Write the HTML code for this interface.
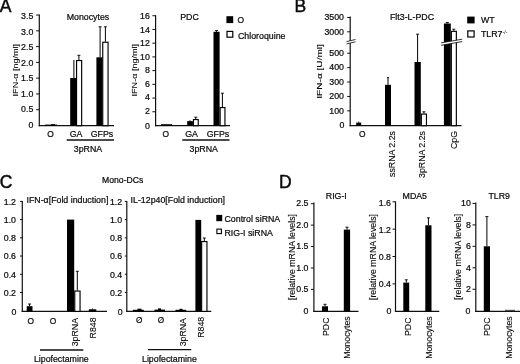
<!DOCTYPE html>
<html><head><meta charset="utf-8"><title>Figure</title>
<style>
html,body{margin:0;padding:0;background:#fff;}
body{width:520px;height:364px;overflow:hidden;}
svg{display:block;filter:blur(0.35px);}
text{font-family:"Liberation Sans",sans-serif;fill:#0a0a0a;stroke:#0a0a0a;stroke-width:0.22px;}
</style></head><body>
<svg width="520" height="364" viewBox="0 0 520 364">
<rect x="0" y="0" width="520" height="364" fill="#fff"/>
<text x="-0.3" y="12.4" text-anchor="start" font-size="17.5" style="stroke-width:0.45px">A</text>
<line x1="39.3" y1="14.6" x2="39.3" y2="126.2" stroke="#111" stroke-width="1.2"/>
<text x="33.3" y="128.45" text-anchor="end" font-size="8.8">0</text>
<line x1="36.099999999999994" y1="109.72" x2="39.3" y2="109.72" stroke="#111" stroke-width="1"/>
<text x="33.3" y="111.92999999999999" text-anchor="end" font-size="8.8">0.5</text>
<line x1="36.099999999999994" y1="93.94" x2="39.3" y2="93.94" stroke="#111" stroke-width="1"/>
<text x="33.3" y="96.50999999999999" text-anchor="end" font-size="8.8">1.0</text>
<line x1="36.099999999999994" y1="78.16" x2="39.3" y2="78.16" stroke="#111" stroke-width="1"/>
<text x="33.3" y="81.09" text-anchor="end" font-size="8.8">1.5</text>
<line x1="36.099999999999994" y1="62.38" x2="39.3" y2="62.38" stroke="#111" stroke-width="1"/>
<text x="33.3" y="65.66999999999999" text-anchor="end" font-size="8.8">2.0</text>
<line x1="36.099999999999994" y1="46.60000000000001" x2="39.3" y2="46.60000000000001" stroke="#111" stroke-width="1"/>
<text x="33.3" y="50.25" text-anchor="end" font-size="8.8">2.5</text>
<line x1="36.099999999999994" y1="30.820000000000007" x2="39.3" y2="30.820000000000007" stroke="#111" stroke-width="1"/>
<text x="33.3" y="34.83" text-anchor="end" font-size="8.8">3.0</text>
<line x1="36.099999999999994" y1="15.040000000000006" x2="39.3" y2="15.040000000000006" stroke="#111" stroke-width="1"/>
<text x="33.3" y="19.409999999999997" text-anchor="end" font-size="8.8">3.5</text>
<line x1="38.699999999999996" y1="125.7" x2="114" y2="125.7" stroke="#111" stroke-width="1.2"/>
<text x="88" y="20" text-anchor="middle" font-size="8.8">Monocytes</text>
<text x="17.6" y="70.2" text-anchor="middle" font-size="7.8" transform="rotate(-90 17.6 70.2)" textLength="52.4" lengthAdjust="spacingAndGlyphs" style="stroke-width:0.12px">IFN-α [ng/ml]</text>
<rect x="45.00" y="124.60" width="12.00" height="1.10" fill="#000"/>
<rect x="51.00" y="124.20" width="4.00" height="1.50" fill="#000"/>
<rect x="70.20" y="78.00" width="5.90" height="47.70" fill="#000"/>
<line x1="73.9" y1="78" x2="73.9" y2="60" stroke="#000" stroke-width="1"/>
<rect x="76.55" y="60.55" width="5.10" height="65.15" fill="#fff" stroke="#000" stroke-width="1.15"/>
<line x1="78.9" y1="60" x2="78.9" y2="55.3" stroke="#000" stroke-width="1"/>
<line x1="77.4" y1="55.3" x2="80.4" y2="55.3" stroke="#000" stroke-width="0.9"/>
<rect x="96.40" y="57.30" width="5.90" height="68.40" fill="#000"/>
<line x1="100.1" y1="57.3" x2="100.1" y2="26.8" stroke="#000" stroke-width="1"/>
<line x1="98.6" y1="26.8" x2="101.6" y2="26.8" stroke="#000" stroke-width="0.9"/>
<rect x="102.75" y="42.25" width="5.30" height="83.45" fill="#fff" stroke="#000" stroke-width="1.15"/>
<line x1="105.4" y1="41.7" x2="105.4" y2="26.8" stroke="#000" stroke-width="1"/>
<line x1="103.9" y1="26.8" x2="106.9" y2="26.8" stroke="#000" stroke-width="0.9"/>
<text x="50.5" y="137" text-anchor="middle" font-size="8.4">O</text>
<text x="76" y="137" text-anchor="middle" font-size="8.8">GA</text>
<text x="102" y="137" text-anchor="middle" font-size="8.8">GFPs</text>
<line x1="66.7" y1="140" x2="114" y2="140" stroke="#111" stroke-width="1.4"/>
<text x="88" y="151.5" text-anchor="middle" font-size="8.8">3pRNA</text>
<line x1="155.6" y1="15.3" x2="155.6" y2="126.2" stroke="#111" stroke-width="1.2"/>
<text x="149.8" y="128.55" text-anchor="end" font-size="8.8">0</text>
<line x1="152.4" y1="111.78" x2="155.6" y2="111.78" stroke="#111" stroke-width="1"/>
<text x="149.8" y="113.95" text-anchor="end" font-size="8.8">2</text>
<line x1="152.4" y1="98.06" x2="155.6" y2="98.06" stroke="#111" stroke-width="1"/>
<text x="149.8" y="100.45" text-anchor="end" font-size="8.8">4</text>
<line x1="152.4" y1="84.34" x2="155.6" y2="84.34" stroke="#111" stroke-width="1"/>
<text x="149.8" y="86.95" text-anchor="end" font-size="8.8">6</text>
<line x1="152.4" y1="70.62" x2="155.6" y2="70.62" stroke="#111" stroke-width="1"/>
<text x="149.8" y="73.45" text-anchor="end" font-size="8.8">8</text>
<line x1="152.4" y1="56.89999999999999" x2="155.6" y2="56.89999999999999" stroke="#111" stroke-width="1"/>
<text x="149.8" y="59.95" text-anchor="end" font-size="8.8">10</text>
<line x1="152.4" y1="43.17999999999999" x2="155.6" y2="43.17999999999999" stroke="#111" stroke-width="1"/>
<text x="149.8" y="46.45" text-anchor="end" font-size="8.8">12</text>
<line x1="152.4" y1="29.459999999999994" x2="155.6" y2="29.459999999999994" stroke="#111" stroke-width="1"/>
<text x="149.8" y="32.95" text-anchor="end" font-size="8.8">14</text>
<line x1="152.4" y1="15.739999999999995" x2="155.6" y2="15.739999999999995" stroke="#111" stroke-width="1"/>
<text x="149.8" y="19.450000000000003" text-anchor="end" font-size="8.8">16</text>
<line x1="155.0" y1="125.7" x2="230" y2="125.7" stroke="#111" stroke-width="1.2"/>
<text x="189.5" y="20" text-anchor="middle" font-size="8.8">PDC</text>
<text x="137.5" y="70.2" text-anchor="middle" font-size="7.8" transform="rotate(-90 137.5 70.2)" textLength="52.4" lengthAdjust="spacingAndGlyphs" style="stroke-width:0.12px">IFN-α [ng/ml]</text>
<rect x="161.00" y="124.20" width="11.00" height="1.50" fill="#000"/>
<rect x="187.20" y="121.10" width="5.70" height="4.60" fill="#000"/>
<line x1="190" y1="121.1" x2="190" y2="120.3" stroke="#000" stroke-width="1"/>
<rect x="193.45" y="119.55" width="4.80" height="6.15" fill="#fff" stroke="#000" stroke-width="1.15"/>
<line x1="195.8" y1="119" x2="195.8" y2="117.2" stroke="#000" stroke-width="1"/>
<line x1="194.3" y1="117.2" x2="197.3" y2="117.2" stroke="#000" stroke-width="0.9"/>
<rect x="213.50" y="31.80" width="6.10" height="93.90" fill="#000"/>
<line x1="216.5" y1="31.8" x2="216.5" y2="30.6" stroke="#000" stroke-width="1"/>
<line x1="215.0" y1="30.6" x2="218.0" y2="30.6" stroke="#000" stroke-width="0.9"/>
<rect x="220.15" y="107.55" width="4.80" height="18.15" fill="#fff" stroke="#000" stroke-width="1.15"/>
<line x1="222.4" y1="107" x2="222.4" y2="93.2" stroke="#000" stroke-width="1"/>
<line x1="220.9" y1="93.2" x2="223.9" y2="93.2" stroke="#000" stroke-width="0.9"/>
<text x="165.7" y="137" text-anchor="middle" font-size="8.4">O</text>
<text x="191.5" y="137" text-anchor="middle" font-size="8.8">GA</text>
<text x="218" y="137" text-anchor="middle" font-size="8.8">GFPs</text>
<line x1="182.3" y1="140" x2="229.5" y2="140" stroke="#111" stroke-width="1.4"/>
<text x="203.7" y="151.5" text-anchor="middle" font-size="8.8">3pRNA</text>
<rect x="226.40" y="16.20" width="6.80" height="6.90" fill="#000"/>
<text x="237.4" y="23.4" text-anchor="start" font-size="8.4">O</text>
<rect x="227.00" y="31.40" width="5.80" height="5.80" fill="#fff" stroke="#000" stroke-width="1.2"/>
<text x="238" y="38.6" text-anchor="start" font-size="8.8">Chloroquine</text>
<text x="294.6" y="12.4" text-anchor="start" font-size="17.5" style="stroke-width:0.45px">B</text>
<line x1="350.2" y1="16.6" x2="350.2" y2="126.2" stroke="#111" stroke-width="1.2"/>
<text x="344.4" y="128.45000000000002" text-anchor="end" font-size="8.8">0</text>
<line x1="347.2" y1="110.88" x2="350.2" y2="110.88" stroke="#111" stroke-width="1"/>
<text x="344" y="113.63" text-anchor="end" font-size="8.8">100</text>
<line x1="347.2" y1="96.46" x2="350.2" y2="96.46" stroke="#111" stroke-width="1"/>
<text x="344" y="99.21" text-anchor="end" font-size="8.8">200</text>
<line x1="347.2" y1="82.03999999999999" x2="350.2" y2="82.03999999999999" stroke="#111" stroke-width="1"/>
<text x="344" y="84.78999999999999" text-anchor="end" font-size="8.8">300</text>
<line x1="347.2" y1="67.62" x2="350.2" y2="67.62" stroke="#111" stroke-width="1"/>
<text x="344" y="70.37" text-anchor="end" font-size="8.8">400</text>
<line x1="347.2" y1="53.2" x2="350.2" y2="53.2" stroke="#111" stroke-width="1"/>
<text x="344" y="55.95" text-anchor="end" font-size="8.8">500</text>
<line x1="347.2" y1="31.8" x2="350.2" y2="31.8" stroke="#111" stroke-width="1"/>
<text x="344" y="34.55" text-anchor="end" font-size="8.8">3000</text>
<line x1="347.2" y1="17.5" x2="350.2" y2="17.5" stroke="#111" stroke-width="1"/>
<text x="344" y="20.25" text-anchor="end" font-size="8.8">3500</text>
<line x1="349.59999999999997" y1="125.7" x2="461.5" y2="125.7" stroke="#111" stroke-width="1.2"/>
<text x="412" y="20" text-anchor="middle" font-size="8.8">Flt3-L-PDC</text>
<text x="322.5" y="71.4" text-anchor="middle" font-size="7.8" transform="rotate(-90 322.5 71.4)" textLength="54.6" lengthAdjust="spacingAndGlyphs" style="stroke-width:0.12px">IFN-α [U/ml]</text>
<polygon points="346.5,41.6 355.5,39.5 355.5,41.8 346.5,43.9" fill="#fff"/>
<line x1="346.5" y1="41.6" x2="355.5" y2="39.5" stroke="#111" stroke-width="0.85"/>
<line x1="346.5" y1="43.9" x2="355.5" y2="41.8" stroke="#111" stroke-width="0.85"/>
<rect x="356.20" y="122.60" width="5.00" height="3.10" fill="#000"/>
<line x1="358.7" y1="122.6" x2="358.7" y2="121.6" stroke="#000" stroke-width="1"/>
<rect x="385.00" y="84.80" width="6.00" height="40.90" fill="#000"/>
<line x1="388" y1="84.8" x2="388" y2="77.6" stroke="#000" stroke-width="1"/>
<line x1="387" y1="77.6" x2="389" y2="77.6" stroke="#000" stroke-width="0.9"/>
<rect x="414.50" y="62.00" width="6.30" height="63.70" fill="#000"/>
<line x1="417.6" y1="62" x2="417.6" y2="34.2" stroke="#000" stroke-width="1"/>
<line x1="416.1" y1="34.2" x2="419.1" y2="34.2" stroke="#000" stroke-width="0.9"/>
<rect x="421.35" y="114.05" width="5.10" height="11.65" fill="#fff" stroke="#000" stroke-width="1.15"/>
<line x1="423.9" y1="113.5" x2="423.9" y2="111.8" stroke="#000" stroke-width="1"/>
<line x1="422.4" y1="111.8" x2="425.4" y2="111.8" stroke="#000" stroke-width="0.9"/>
<rect x="443.90" y="23.50" width="6.90" height="102.20" fill="#000"/>
<line x1="447.3" y1="23.5" x2="447.3" y2="22.5" stroke="#000" stroke-width="1"/>
<line x1="445.8" y1="22.5" x2="448.8" y2="22.5" stroke="#000" stroke-width="0.9"/>
<rect x="451.35" y="31.35" width="5.00" height="94.35" fill="#fff" stroke="#000" stroke-width="1.15"/>
<line x1="453.8" y1="30.8" x2="453.8" y2="29.2" stroke="#000" stroke-width="1"/>
<line x1="452.3" y1="29.2" x2="455.3" y2="29.2" stroke="#000" stroke-width="0.9"/>
<polygon points="441,42.9 462.2,39.2 462.2,41.6 441,45.3" fill="#fff"/>
<line x1="441" y1="42.9" x2="462.2" y2="39.2" stroke="#111" stroke-width="0.85"/>
<line x1="441" y1="45.3" x2="462.2" y2="41.6" stroke="#111" stroke-width="0.85"/>
<text x="362.3" y="137" text-anchor="middle" font-size="8.4">O</text>
<text x="394.8" y="131" text-anchor="end" font-size="8.8" transform="rotate(-90 394.8 131)" style="stroke-width:0.12px">ssRNA 2.2s</text>
<text x="425" y="131" text-anchor="end" font-size="8.8" transform="rotate(-90 425 131)" style="stroke-width:0.12px">3pRNA 2.2s</text>
<text x="456.9" y="131" text-anchor="end" font-size="8.8" transform="rotate(-90 456.9 131)" style="stroke-width:0.12px">CpG</text>
<rect x="467.20" y="16.60" width="7.40" height="6.80" fill="#000"/>
<text x="481" y="23" text-anchor="start" font-size="8.8">WT</text>
<rect x="467.80" y="30.90" width="6.30" height="6.10" fill="#fff" stroke="#000" stroke-width="1.2"/>
<text x="481" y="37.4" text-anchor="start" font-size="8.8">TLR7<tspan font-size="5.2" dy="-3" style="stroke-width:0">-/-</tspan></text>
<text x="-0.3" y="187.8" text-anchor="start" font-size="17.5" style="stroke-width:0.45px">C</text>
<text x="122.7" y="182.7" text-anchor="middle" font-size="8.65">Mono-DCs</text>
<line x1="22.3" y1="201" x2="22.3" y2="311.9" stroke="#111" stroke-width="1.2"/>
<text x="16.4" y="314.65000000000003" text-anchor="end" font-size="8.8">0</text>
<line x1="20.0" y1="292.48" x2="22.3" y2="292.48" stroke="#111" stroke-width="1"/>
<text x="16" y="295.83000000000004" text-anchor="end" font-size="8.8">0.2</text>
<line x1="20.0" y1="274.26" x2="22.3" y2="274.26" stroke="#111" stroke-width="1"/>
<text x="16" y="277.61" text-anchor="end" font-size="8.8">0.4</text>
<line x1="20.0" y1="256.04" x2="22.3" y2="256.04" stroke="#111" stroke-width="1"/>
<text x="16" y="259.39000000000004" text-anchor="end" font-size="8.8">0.6</text>
<line x1="20.0" y1="237.82" x2="22.3" y2="237.82" stroke="#111" stroke-width="1"/>
<text x="16" y="241.17" text-anchor="end" font-size="8.8">0.8</text>
<line x1="20.0" y1="219.6" x2="22.3" y2="219.6" stroke="#111" stroke-width="1"/>
<text x="16" y="222.95" text-anchor="end" font-size="8.8">1.0</text>
<line x1="20.0" y1="201.38" x2="22.3" y2="201.38" stroke="#111" stroke-width="1"/>
<text x="16" y="204.73" text-anchor="end" font-size="8.8">1.2</text>
<line x1="21.7" y1="311.4" x2="107" y2="311.4" stroke="#111" stroke-width="1.2"/>
<text x="26.5" y="202.6" text-anchor="start" font-size="8.8">IFN-α[Fold induction]</text>
<rect x="26.70" y="306.20" width="5.80" height="5.20" fill="#000"/>
<line x1="29.6" y1="306.2" x2="29.6" y2="304" stroke="#000" stroke-width="1"/>
<line x1="28.1" y1="304" x2="31.1" y2="304" stroke="#000" stroke-width="0.9"/>
<rect x="67.00" y="219.60" width="7.20" height="91.80" fill="#000"/>
<rect x="74.75" y="291.05" width="5.30" height="20.35" fill="#fff" stroke="#000" stroke-width="1.15"/>
<line x1="77.3" y1="290.5" x2="77.3" y2="271.3" stroke="#000" stroke-width="1"/>
<line x1="75.8" y1="271.3" x2="78.8" y2="271.3" stroke="#000" stroke-width="0.9"/>
<rect x="88.80" y="309.30" width="7.50" height="2.10" fill="#000"/>
<line x1="92.5" y1="309.3" x2="92.5" y2="308.5" stroke="#000" stroke-width="1"/>
<text x="30.8" y="323.5" text-anchor="middle" font-size="8.4">O</text>
<text x="53.1" y="323.5" text-anchor="middle" font-size="8.4">O</text>
<text x="77.5" y="318" text-anchor="end" font-size="8.8" transform="rotate(-90 77.5 318)" style="stroke-width:0.12px">3pRNA</text>
<text x="96" y="317.4" text-anchor="end" font-size="8.8" transform="rotate(-90 96 317.4)" style="stroke-width:0.12px">R848</text>
<line x1="40" y1="350" x2="83.3" y2="350" stroke="#111" stroke-width="1.4"/>
<text x="61.3" y="362.3" text-anchor="middle" font-size="8.8">Lipofectamine</text>
<line x1="126.8" y1="201" x2="126.8" y2="311.9" stroke="#111" stroke-width="1.2"/>
<text x="122.60000000000001" y="314.65000000000003" text-anchor="end" font-size="8.8">0</text>
<line x1="124.8" y1="292.48" x2="126.8" y2="292.48" stroke="#111" stroke-width="1"/>
<text x="122.2" y="295.83000000000004" text-anchor="end" font-size="8.8">0.2</text>
<line x1="124.8" y1="274.26" x2="126.8" y2="274.26" stroke="#111" stroke-width="1"/>
<text x="122.2" y="277.61" text-anchor="end" font-size="8.8">0.4</text>
<line x1="124.8" y1="256.04" x2="126.8" y2="256.04" stroke="#111" stroke-width="1"/>
<text x="122.2" y="259.39000000000004" text-anchor="end" font-size="8.8">0.6</text>
<line x1="124.8" y1="237.82" x2="126.8" y2="237.82" stroke="#111" stroke-width="1"/>
<text x="122.2" y="241.17" text-anchor="end" font-size="8.8">0.8</text>
<line x1="124.8" y1="219.6" x2="126.8" y2="219.6" stroke="#111" stroke-width="1"/>
<text x="122.2" y="222.95" text-anchor="end" font-size="8.8">1.0</text>
<line x1="124.8" y1="201.38" x2="126.8" y2="201.38" stroke="#111" stroke-width="1"/>
<text x="122.2" y="204.73" text-anchor="end" font-size="8.8">1.2</text>
<line x1="126.2" y1="311.4" x2="211.3" y2="311.4" stroke="#111" stroke-width="1.2"/>
<text x="130.6" y="202.8" text-anchor="start" font-size="8.8">IL-12p40[Fold induction]</text>
<rect x="132.80" y="309.80" width="11.00" height="1.60" fill="#000"/>
<rect x="137.50" y="308.70" width="4.00" height="2.70" fill="#000"/>
<rect x="154.50" y="309.60" width="10.50" height="1.80" fill="#000"/>
<rect x="158.00" y="308.40" width="3.00" height="3.00" fill="#000"/>
<rect x="175.50" y="309.80" width="10.70" height="1.60" fill="#000"/>
<rect x="179.50" y="308.80" width="3.00" height="2.60" fill="#000"/>
<rect x="195.40" y="219.90" width="5.80" height="91.50" fill="#000"/>
<rect x="201.65" y="241.55" width="5.30" height="69.85" fill="#fff" stroke="#000" stroke-width="1.15"/>
<line x1="204.3" y1="241" x2="204.3" y2="238" stroke="#000" stroke-width="1"/>
<line x1="202.8" y1="238" x2="205.8" y2="238" stroke="#000" stroke-width="0.9"/>
<text x="139.2" y="322.7" text-anchor="middle" font-size="8.2">O</text>
<line x1="137.3" y1="321.7" x2="141.1" y2="317.8" stroke="#111" stroke-width="0.7"/>
<text x="161" y="322.7" text-anchor="middle" font-size="8.2">O</text>
<line x1="159.1" y1="321.7" x2="162.9" y2="317.8" stroke="#111" stroke-width="0.7"/>
<text x="185.6" y="318" text-anchor="end" font-size="8.8" transform="rotate(-90 185.6 318)" style="stroke-width:0.12px">3pRNA</text>
<text x="204.1" y="316.8" text-anchor="end" font-size="8.8" transform="rotate(-90 204.1 316.8)" style="stroke-width:0.12px">R848</text>
<line x1="148" y1="349.6" x2="191.3" y2="349.6" stroke="#111" stroke-width="1.4"/>
<text x="169.4" y="362.3" text-anchor="middle" font-size="8.8">Lipofectamine</text>
<rect x="216.30" y="214.90" width="5.90" height="6.30" fill="#000"/>
<text x="224.5" y="221.8" text-anchor="start" font-size="8.8">Control siRNA</text>
<rect x="216.90" y="229.10" width="4.50" height="4.50" fill="#fff" stroke="#000" stroke-width="1.1"/>
<text x="224.5" y="235.7" text-anchor="start" font-size="8.8">RIG-I siRNA</text>
<text x="279" y="188" text-anchor="start" font-size="17.5" style="stroke-width:0.45px">D</text>
<line x1="313.9" y1="202.5" x2="313.9" y2="311.9" stroke="#111" stroke-width="1.2"/>
<text x="308.5" y="313.75" text-anchor="end" font-size="8.8">0</text>
<line x1="310.9" y1="289.38" x2="313.9" y2="289.38" stroke="#111" stroke-width="1"/>
<text x="308.5" y="292.13" text-anchor="end" font-size="8.8">0.5</text>
<line x1="310.9" y1="267.96000000000004" x2="313.9" y2="267.96000000000004" stroke="#111" stroke-width="1"/>
<text x="308.5" y="270.71000000000004" text-anchor="end" font-size="8.8">1.0</text>
<line x1="310.9" y1="246.54000000000002" x2="313.9" y2="246.54000000000002" stroke="#111" stroke-width="1"/>
<text x="308.5" y="249.29000000000002" text-anchor="end" font-size="8.8">1.5</text>
<line x1="310.9" y1="225.12" x2="313.9" y2="225.12" stroke="#111" stroke-width="1"/>
<text x="308.5" y="227.87" text-anchor="end" font-size="8.8">2.0</text>
<line x1="310.9" y1="203.7" x2="313.9" y2="203.7" stroke="#111" stroke-width="1"/>
<text x="308.5" y="206.45" text-anchor="end" font-size="8.8">2.5</text>
<line x1="313.29999999999995" y1="311.4" x2="358.5" y2="311.4" stroke="#111" stroke-width="1.2"/>
<text x="336.3" y="199" text-anchor="middle" font-size="8.8">RIG-I</text>
<text x="295.3" y="257" text-anchor="middle" font-size="8.8" transform="rotate(-90 295.3 257)" style="stroke-width:0.12px">[relative mRNA levels]</text>
<rect x="322.00" y="306.30" width="6.00" height="5.10" fill="#000"/>
<line x1="325" y1="306.3" x2="325" y2="304.3" stroke="#000" stroke-width="1"/>
<line x1="323.5" y1="304.3" x2="326.5" y2="304.3" stroke="#000" stroke-width="0.9"/>
<rect x="343.80" y="229.60" width="6.30" height="81.80" fill="#000"/>
<line x1="347" y1="229.6" x2="347" y2="227.2" stroke="#000" stroke-width="1"/>
<line x1="345.5" y1="227.2" x2="348.5" y2="227.2" stroke="#000" stroke-width="0.9"/>
<text x="328.8" y="317.5" text-anchor="end" font-size="8.8" transform="rotate(-90 328.8 317.5)" style="stroke-width:0.12px">PDC</text>
<text x="350.3" y="316.3" text-anchor="end" font-size="8.8" transform="rotate(-90 350.3 316.3)" style="stroke-width:0.12px">Monocytes</text>
<line x1="395.5" y1="201.4" x2="395.5" y2="311.9" stroke="#111" stroke-width="1.2"/>
<text x="391.5" y="313.95" text-anchor="end" font-size="8.8">0</text>
<line x1="392.5" y1="283.84999999999997" x2="395.5" y2="283.84999999999997" stroke="#111" stroke-width="1"/>
<text x="391" y="286.7" text-anchor="end" font-size="8.8">0.4</text>
<line x1="392.5" y1="256.5" x2="395.5" y2="256.5" stroke="#111" stroke-width="1"/>
<text x="391" y="259.95" text-anchor="end" font-size="8.8">0.8</text>
<line x1="392.5" y1="229.14999999999998" x2="395.5" y2="229.14999999999998" stroke="#111" stroke-width="1"/>
<text x="391" y="233.2" text-anchor="end" font-size="8.8">1.2</text>
<line x1="392.5" y1="201.79999999999998" x2="395.5" y2="201.79999999999998" stroke="#111" stroke-width="1"/>
<text x="391" y="206.45" text-anchor="end" font-size="8.8">1.6</text>
<line x1="394.9" y1="311.4" x2="439.3" y2="311.4" stroke="#111" stroke-width="1.2"/>
<text x="414.8" y="198.8" text-anchor="middle" font-size="8.8">MDA5</text>
<text x="376.3" y="257" text-anchor="middle" font-size="8.8" transform="rotate(-90 376.3 257)" style="stroke-width:0.12px">[relative mRNA levels]</text>
<rect x="403.30" y="282.60" width="5.90" height="28.80" fill="#000"/>
<line x1="406.3" y1="282.6" x2="406.3" y2="279.8" stroke="#000" stroke-width="1"/>
<line x1="404.8" y1="279.8" x2="407.8" y2="279.8" stroke="#000" stroke-width="0.9"/>
<rect x="425.30" y="225.30" width="6.20" height="86.10" fill="#000"/>
<line x1="428.4" y1="225.3" x2="428.4" y2="217.8" stroke="#000" stroke-width="1"/>
<line x1="426.9" y1="217.8" x2="429.9" y2="217.8" stroke="#000" stroke-width="0.9"/>
<text x="411" y="317.5" text-anchor="end" font-size="8.8" transform="rotate(-90 411 317.5)" style="stroke-width:0.12px">PDC</text>
<text x="432" y="316.3" text-anchor="end" font-size="8.8" transform="rotate(-90 432 316.3)" style="stroke-width:0.12px">Monocytes</text>
<line x1="475.8" y1="202.5" x2="475.8" y2="311.9" stroke="#111" stroke-width="1.2"/>
<text x="470.3" y="313.84999999999997" text-anchor="end" font-size="8.8">0</text>
<line x1="472.5" y1="289.25" x2="475.8" y2="289.25" stroke="#111" stroke-width="1"/>
<text x="470.8" y="292.0" text-anchor="end" font-size="8.8">2</text>
<line x1="472.5" y1="267.8" x2="475.8" y2="267.8" stroke="#111" stroke-width="1"/>
<text x="470.8" y="270.55" text-anchor="end" font-size="8.8">4</text>
<line x1="472.5" y1="246.35" x2="475.8" y2="246.35" stroke="#111" stroke-width="1"/>
<text x="470.8" y="249.1" text-anchor="end" font-size="8.8">6</text>
<line x1="472.5" y1="224.89999999999998" x2="475.8" y2="224.89999999999998" stroke="#111" stroke-width="1"/>
<text x="470.8" y="227.64999999999998" text-anchor="end" font-size="8.8">8</text>
<line x1="472.5" y1="203.45" x2="475.8" y2="203.45" stroke="#111" stroke-width="1"/>
<text x="470.8" y="206.2" text-anchor="end" font-size="8.8">10</text>
<line x1="475.2" y1="311.4" x2="520" y2="311.4" stroke="#111" stroke-width="1.2"/>
<text x="499.2" y="198.5" text-anchor="middle" font-size="8.8">TLR9</text>
<text x="461.4" y="256.8" text-anchor="middle" font-size="8.8" transform="rotate(-90 461.4 256.8)" style="stroke-width:0.12px">[relative mRNA levels]</text>
<rect x="483.80" y="246.30" width="6.20" height="65.10" fill="#000"/>
<line x1="486.9" y1="246.3" x2="486.9" y2="216.6" stroke="#000" stroke-width="1"/>
<line x1="485.4" y1="216.6" x2="488.4" y2="216.6" stroke="#000" stroke-width="0.9"/>
<line x1="505" y1="310.3" x2="515" y2="310.3" stroke="#111" stroke-width="0.8"/>
<text x="490" y="317.5" text-anchor="end" font-size="8.8" transform="rotate(-90 490 317.5)" style="stroke-width:0.12px">PDC</text>
<text x="512.3" y="316.3" text-anchor="end" font-size="8.8" transform="rotate(-90 512.3 316.3)" style="stroke-width:0.12px">Monocytes</text>
</svg>
</body></html>
